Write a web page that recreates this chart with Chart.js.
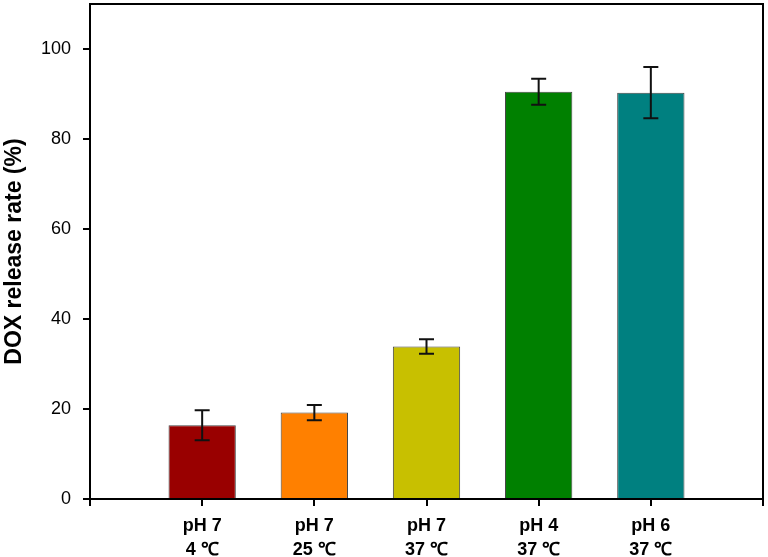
<!DOCTYPE html>
<html>
<head>
<meta charset="utf-8">
<script src="https://cdn.jsdelivr.net/npm/chart.js@4"></script>
<style>
  html, body { margin: 0; padding: 0; background: #fff; }
  #wrap { width: 768px; height: 557px; }
</style>
</head>
<body>
<div id="wrap"><canvas id="releaseChart" width="768" height="557"></canvas></div>
<script>
// categories (empty slots at both ends keep bars off the frame)
const categories = [
    "",
    ["pH 7", "4 \u2103"],
    ["pH 7", "25 \u2103"],
    ["pH 7", "37 \u2103"],
    ["pH 4", "37 \u2103"],
    ["pH 6", "37 \u2103"],
    "",
];
const releaseRate = [null, 16.4, 19.2, 33.9, 90.5, 90.3, null];
const releaseErr = [null, 3.35, 1.7, 1.6, 2.9, 5.7, null];
const barColors = ["#990000", "#990000", "#ff8000", "#c8c000", "#008000", "#008080", "#008080"];
const yTicks = [0, 20, 40, 60, 80, 100];

/* ===================== PLUGINS ===================== */

const framePlugin = {
    id: "frame",
    afterDraw(chart) {
        const { ctx, chartArea: a } = chart;
        ctx.save();
        ctx.strokeStyle = "#000";
        ctx.lineWidth = 2;
        ctx.strokeRect(a.left, a.top, a.right - a.left, a.bottom - a.top);
        ctx.restore();
    },
};

const errorBarPlugin = {
    id: "errorBars",
    afterDatasetsDraw(chart) {
        const { ctx } = chart;
        const x = chart.scales.x;
        const y = chart.scales.y;
        ctx.save();
        ctx.strokeStyle = "#111";
        ctx.lineWidth = 2;
        releaseRate.forEach((v, i) => {
            if (v == null) return;
            const px = x.getPixelForValue(i);
            const top = y.getPixelForValue(v + releaseErr[i]);
            const bot = y.getPixelForValue(v - releaseErr[i]);
            ctx.beginPath();
            ctx.moveTo(px, top);
            ctx.lineTo(px, bot);
            ctx.moveTo(px - 7.5, top);
            ctx.lineTo(px + 7.5, top);
            ctx.moveTo(px - 7.5, bot);
            ctx.lineTo(px + 7.5, bot);
            ctx.stroke();
        });
        ctx.restore();
    },
};

/* ===================== CHART ===================== */

new Chart(document.getElementById("releaseChart"), {
    type: "bar",
    data: {
        labels: categories,
        datasets: [{
            data: releaseRate,
            backgroundColor: barColors,
            borderColor: "#444",
            borderWidth: 1,
            barPercentage: 0.6,
            categoryPercentage: 1,
        }],
    },
    options: {
        responsive: false,
        animation: false,
        devicePixelRatio: 1,
        layout: { padding: { top: 4, right: 5, left: 0, bottom: 0 } },
        plugins: {
            legend: { display: false },
            tooltip: { enabled: false },
        },
        scales: {
            x: {
                offset: false,
                grid: { offset: false, drawOnChartArea: false, drawTicks: true, tickLength: 7, color: "#000", lineWidth: 2 },
                border: { display: true, color: "#000", width: 2 },
                ticks: {
                    color: "#000",
                    padding: 9,
                    maxRotation: 0,
                    autoSkip: false,
                    font: { family: "Liberation Sans, Arial, sans-serif", size: 18, weight: "bold", lineHeight: 1.28 },
                },
                afterFit: s => {
                    s.height = 58;
                    s.paddingLeft = 0;
                    s.paddingRight = 0;
                },
            },
            y: {
                min: 0,
                max: 110,
                grid: { drawOnChartArea: false, drawTicks: true, tickLength: 7, color: "#000", lineWidth: 2 },
                border: { display: true, color: "#000", width: 2 },
                ticks: {
                    stepSize: 20,
                    color: "#000",
                    padding: 12,
                    font: { family: "Liberation Sans, Arial, sans-serif", size: 18 },
                },
                afterBuildTicks: s => {
                    s.ticks = yTicks.map(v => ({ value: v }));
                },
                title: {
                    display: true,
                    text: "DOX release rate (%)",
                    color: "#000",
                    padding: { top: 1, bottom: 0 },
                    font: { family: "Liberation Sans, Arial, sans-serif", size: 23, weight: "bold" },
                },
                afterFit: s => {
                    s.width = 90;
                    s.paddingTop = 0;
                    s.paddingBottom = 0;
                },
            },
        },
    },
    plugins: [framePlugin, errorBarPlugin],
});
</script>
</body>
</html>
